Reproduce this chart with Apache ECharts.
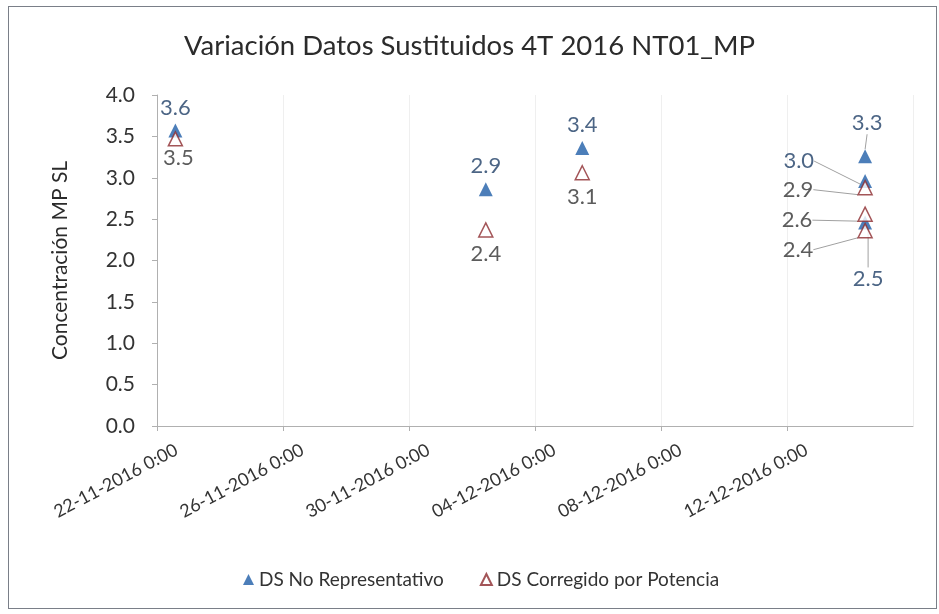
<!DOCTYPE html>
<html>
<head>
<meta charset="utf-8">
<script src="https://cdn.jsdelivr.net/npm/echarts@6/dist/echarts.min.js"></script>
<style>
  html, body { margin: 0; padding: 0; background: #fff; }
  #frame { position: absolute; left: 8px; top: 6px; width: 927px; height: 601px; border: 1px solid #7a7f88; }
  #myChart { position: absolute; left: 0; top: 0; width: 939px; height: 614px; }
</style>
</head>
<body>
<div id="frame"></div>
<div id="myChart"></div>
<script>
  // datos
  const startDate = '2016-11-22 00:00';
  const endDate = '2016-12-16 00:00';
  const noRepDates = ['2016-11-22 14:00', '2016-12-02 10:30', '2016-12-05 12:00', '2016-12-14 11:30', '2016-12-14 11:30', '2016-12-14 11:30'];
  const noRepValues = [3.57, 2.86, 3.36, 3.26, 2.96, 2.46];
  const corrDates = ['2016-11-22 14:00', '2016-12-02 10:30', '2016-12-05 12:00', '2016-12-14 11:30', '2016-12-14 11:30', '2016-12-14 11:30'];
  const corrValues = [3.47, 2.37, 3.06, 2.88, 2.56, 2.36];
  const seriesNames = ['DS No Representativo', 'DS Corregido por Potencia'];
  const yTicks = [0, 0.5, 1, 1.5, 2, 2.5, 3, 3.5, 4];

  const DAY = 86400000;
  function toMs(s) {
    const p = s.split(/[- :]/).map(Number);
    return Date.UTC(p[0], p[1] - 1, p[2], p[3], p[4]);
  }
  const t0 = toMs(startDate);
  function toDays(s) { return (toMs(s) - t0) / DAY; }
  function pad(n) { return (n < 10 ? '0' : '') + n; }
  function dayLabel(v) {
    const d = new Date(t0 + v * DAY);
    return pad(d.getUTCDate()) + '-' + pad(d.getUTCMonth() + 1) + '-' + d.getUTCFullYear() + ' 0:00';
  }

  // posicion de etiquetas (indice -> posicion / desplazamiento / linea guia)
  const noRepLabelPos = ['top', 'top', 'top', 'top', 'left', 'bottom'];
  const noRepShift = [[0, 0], [0, 0], [0, 0], [2, -10], [-39, -20], [3, 33]];
  const noRepGuide = [false, false, false, true, true, true];
  const corrLabelPos = ['bottom', 'bottom', 'bottom', 'left', 'left', 'left'];
  const corrShift = [[3, -5], [0, 0], [0, 0], [-39, 2], [-40, 6], [-39, 19]];
  const corrGuide = [false, false, false, true, true, true];

  const font = 'Lato, "Open Sans", sans-serif';

  let myChart = echarts.init(document.getElementById('myChart'));
  myChart.setOption({
    animation: false,
    textStyle: { fontFamily: font },
    title: {
      text: 'Variación Datos Sustituidos 4T 2016 NT01_MP',
      left: 'center',
      top: 27,
      textStyle: { fontSize: 27.5, fontWeight: 'normal', color: '#2b2b2b', fontFamily: font }
    },
    legend: {
      top: 565,
      left: 238,
      itemWidth: 11,
      itemHeight: 11,
      itemGap: 36,
      textStyle: { fontSize: 19, color: '#333', fontFamily: font },
      data: seriesNames
    },
    grid: { left: 157, right: 26, top: 95, bottom: 188 },
    xAxis: {
      type: 'value',
      min: 0,
      max: toDays(endDate),
      interval: 4,
      axisLine: { show: true, lineStyle: { color: '#b0b0b0' } },
      axisTick: { show: true, inside: false, length: 5, lineStyle: { color: '#b0b0b0' } },
      splitLine: { show: true, lineStyle: { color: '#efefef' } },
      axisLabel: {
        rotate: 28,
        fontSize: 18,
        color: '#333',
        margin: 33,
        padding: [0, -22, 0, 0],
        showMaxLabel: false,
        formatter: dayLabel
      }
    },
    yAxis: {
      type: 'value',
      min: 0,
      max: 4,
      interval: 0.5,
      name: 'Concentración MP SL',
      nameLocation: 'middle',
      nameGap: 86,
      nameTextStyle: { fontSize: 21, color: '#2b2b2b' },
      axisLine: { show: true, lineStyle: { color: '#b0b0b0' } },
      axisTick: { show: true, length: 5, lineStyle: { color: '#b0b0b0' } },
      splitLine: { show: false },
      axisLabel: {
        fontSize: 21,
        color: '#333',
        margin: 22,
        formatter: function (v) { return yTicks.indexOf(v) >= 0 ? v.toFixed(1) : ''; }
      }
    },
    series: [
      {
        name: seriesNames[0],
        type: 'scatter',
        symbol: 'triangle',
        symbolSize: 14,
        itemStyle: { color: '#1f5ea8' },
        data: noRepDates.map((d, i) => ({
          value: [toDays(d), noRepValues[i]],
          label: { position: noRepLabelPos[i] },
          labelLine: { show: noRepGuide[i] }
        })),
        label: {
          show: true,
          fontSize: 22,
          color: '#1f3f66',
          distance: 5,
          formatter: p => p.value[1].toFixed(1)
        },
        labelLine: { show: false, lineStyle: { color: '#a0a0a0', width: 1 } },
        labelLayout: p => ({ dx: noRepShift[p.dataIndex][0], dy: noRepShift[p.dataIndex][1] })
      },
      {
        name: seriesNames[1],
        type: 'scatter',
        symbol: 'triangle',
        symbolSize: 14,
        itemStyle: { color: '#ffffff', borderColor: '#8c2a2e', borderWidth: 1.5 },
        data: corrDates.map((d, i) => ({
          value: [toDays(d), corrValues[i]],
          label: { position: corrLabelPos[i] },
          labelLine: { show: corrGuide[i] }
        })),
        label: {
          show: true,
          fontSize: 22,
          color: '#333',
          distance: 5,
          formatter: p => p.value[1].toFixed(1)
        },
        labelLine: { show: false, lineStyle: { color: '#a0a0a0', width: 1 } },
        labelLayout: p => ({ dx: corrShift[p.dataIndex][0], dy: corrShift[p.dataIndex][1] })
      }
    ]
  });
</script>
</body>
</html>
